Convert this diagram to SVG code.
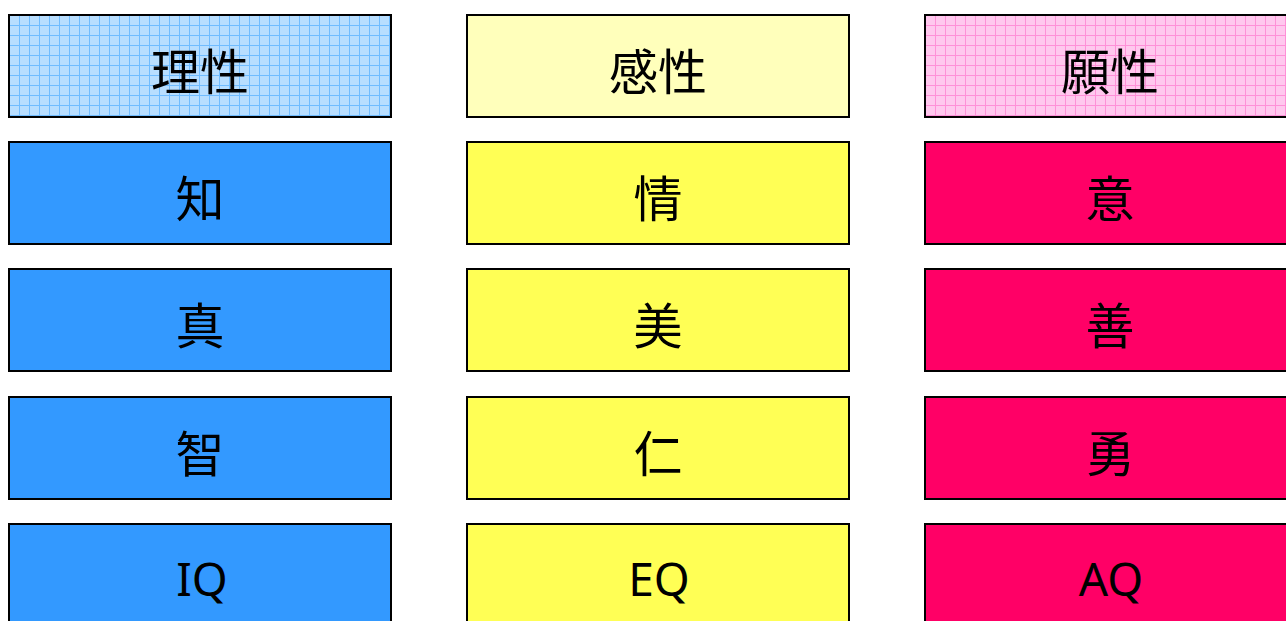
<svg xmlns="http://www.w3.org/2000/svg" width="1286" height="621" viewBox="0 0 1286 621">
<style>
.box{stroke:#000;stroke-width:2}
.blue{fill:#3399ff}
.yel{fill:#ffff55}
.red{fill:#ff0066}
.t{font-family:"Noto Sans CJK JP","Noto Sans CJK SC",sans-serif;font-size:49px;font-weight:400;fill:#000;text-anchor:middle;dominant-baseline:central}
.l{font-family:"Noto Sans","Liberation Sans",sans-serif;font-size:46px;fill:#000;text-anchor:middle;dominant-baseline:central}
</style>
<defs>
<pattern id="gb" x="9" y="15" width="10" height="10" patternUnits="userSpaceOnUse">
<rect width="10" height="10" fill="#b8deff"/>
<path d="M0 0.5H10M0.5 0V10" stroke="#70bcff" stroke-width="1"/>
</pattern>
<pattern id="gp" x="925" y="15" width="10" height="10" patternUnits="userSpaceOnUse">
<rect width="10" height="10" fill="#ffc8ee"/>
<path d="M0 0.5H10M0.5 0V10" stroke="#ff90d8" stroke-width="1"/>
</pattern>
</defs>
<g id="h1"><rect class="box" x="9" y="15" width="382" height="102" fill="url(#gb)"/><text class="t" x="200" y="68">理性</text></g>
<g id="h2"><rect class="box" x="467" y="15" width="382" height="102" fill="#ffffbb"/><text class="t" x="658" y="68">感性</text></g>
<g id="h3"><rect class="box" x="925" y="15" width="382" height="102" fill="url(#gp)"/><text class="t" x="1110" y="68">願性</text></g>

<g id="b1"><rect class="box blue" x="9" y="142" width="382" height="102"/><text class="t" x="200" y="195">知</text></g>
<g id="b2"><rect class="box blue" x="9" y="269" width="382" height="102"/><text class="t" x="200" y="322">真</text></g>
<g id="b3"><rect class="box blue" x="9" y="397" width="382" height="102"/><text class="t" x="200" y="450">智</text></g>
<g id="b4"><rect class="box blue" x="9" y="524" width="382" height="102"/><text class="l" x="202" y="578">IQ</text></g>

<g id="y1"><rect class="box yel" x="467" y="142" width="382" height="102"/><text class="t" x="658" y="195">情</text></g>
<g id="y2"><rect class="box yel" x="467" y="269" width="382" height="102"/><text class="t" x="658" y="322">美</text></g>
<g id="y3"><rect class="box yel" x="467" y="397" width="382" height="102"/><text class="t" x="658" y="450">仁</text></g>
<g id="y4"><rect class="box yel" x="467" y="524" width="382" height="102"/><text class="l" x="659" y="578">EQ</text></g>

<g id="r1"><rect class="box red" x="925" y="142" width="382" height="102"/><text class="t" x="1110" y="195">意</text></g>
<g id="r2"><rect class="box red" x="925" y="269" width="382" height="102"/><text class="t" x="1110" y="322">善</text></g>
<g id="r3"><rect class="box red" x="925" y="397" width="382" height="102"/><text class="t" x="1110" y="450">勇</text></g>
<g id="r4"><rect class="box red" x="925" y="524" width="382" height="102"/><text class="l" x="1111" y="578">AQ</text></g>
<g id="connectors"/>
</svg>
